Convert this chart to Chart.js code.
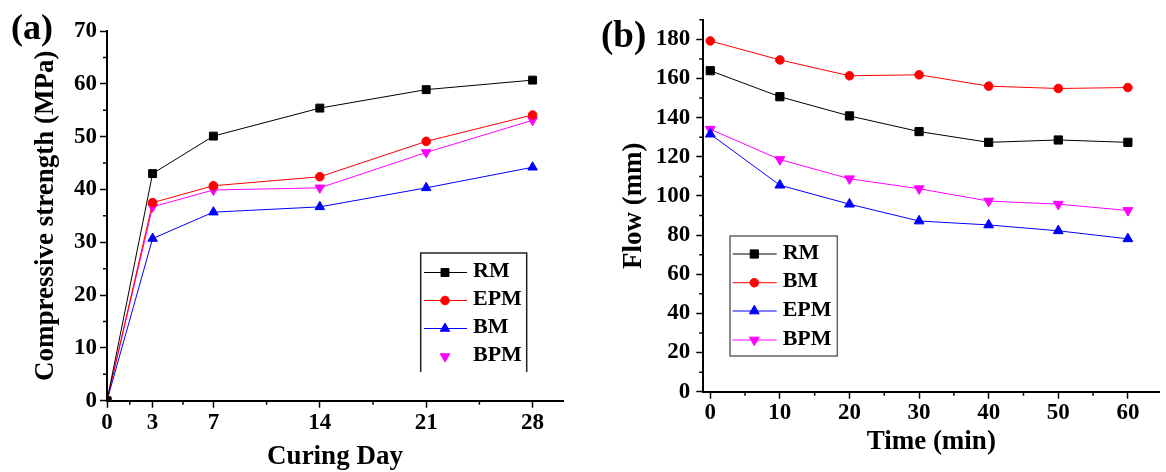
<!DOCTYPE html>
<html>
<head>
<meta charset="utf-8">
<script src="https://cdn.jsdelivr.net/npm/chart.js@4.4.0/dist/chart.umd.min.js"></script>
<style>
  html, body { margin: 0; padding: 0; background: #fff; }
  body { width: 1166px; height: 472px; position: relative; overflow: hidden; }
  .panel { position: absolute; top: 0; }
</style>
</head>
<body>
<div class="panel" style="left:0"><canvas id="chartA" width="580" height="472"></canvas></div>
<div class="panel" style="left:590px"><canvas id="chartB" width="576" height="472"></canvas></div>
<script>
// ---- (a) compressive strength vs curing day ----
const curingDays = [0, 3, 7, 14, 21, 28];
const dayTicks = [0, 3, 7, 14, 21, 28];
const strengthTicks = [0, 10, 20, 30, 40, 50, 60, 70];
const strengthRM = [0, 43.0, 50.1, 55.4, 58.9, 60.7];
const strengthEPM = [0, 37.5, 40.7, 42.4, 49.1, 54.1];
const strengthBM = [0, 30.7, 35.7, 36.7, 40.3, 44.2];
const strengthBPM = [0, 36.7, 39.9, 40.3, 47.0, 53.1];

// ---- (b) flow vs time ----
const flowTimes = [0, 10, 20, 30, 40, 50, 60];
const timeTicks = [0, 10, 20, 30, 40, 50, 60];
const flowTicks = [0, 20, 40, 60, 80, 100, 120, 140, 160, 180];
const flowRM = [164.0, 150.7, 140.9, 132.9, 127.4, 128.6, 127.4];
const flowBM = [179.2, 169.5, 161.4, 161.9, 156.1, 154.9, 155.4];
const flowEPM = [131.6, 105.5, 95.8, 87.2, 85.2, 82.2, 78.1];
const flowBPM = [134.1, 118.6, 108.8, 103.7, 97.4, 95.8, 92.6];

const SERIF = "'Liberation Serif', 'Times New Roman', serif";
const tickFont = { family: SERIF, size: 23, weight: "bold" };
const titleFont = { family: SERIF, size: 27, weight: "bold", lineHeight: 1 };

function series(label, xs, ys, color, style, radius, rotation) {
  return {
    label: label,
    data: xs.map((x, i) => ({ x: x, y: ys[i] })),
    borderColor: color,
    backgroundColor: color,
    borderWidth: 1,
    pointStyle: style,
    pointRadius: radius,
    pointRotation: rotation || 0,
    pointBorderWidth: 1,
    tension: 0,
  };
}

// short minor ticks halfway between the major ones
const minorTicks = {
  id: "minorTicks",
  afterDraw(chart) {
    const ctx = chart.ctx;
    const area = chart.chartArea;
    ctx.save();
    ctx.strokeStyle = "#000";
    ctx.lineWidth = 1.5;
    ctx.beginPath();
    for (const id of ["x", "y"]) {
      const s = chart.scales[id];
      const vals = s.ticks.map(t => t.value);
      const mids = [];
      for (let i = 0; i < vals.length - 1; i++) mids.push((vals[i] + vals[i + 1]) / 2);
      const extra = vals[vals.length - 1] + (vals[vals.length - 1] - vals[vals.length - 2]) / 2;
      if (extra <= s.max) mids.push(extra);
      for (const v of mids) {
        const p = s.getPixelForValue(v);
        if (id === "x") { ctx.moveTo(p, area.bottom); ctx.lineTo(p, area.bottom + 4); }
        else { ctx.moveTo(area.left, p); ctx.lineTo(area.left - 4, p); }
      }
    }
    ctx.stroke();
    ctx.restore();
  },
};

// legend box drawn inside the plot
const boxLegend = {
  id: "boxLegend",
  afterDraw(chart, args, o) {
    if (!o || !o.rows) return;
    const ctx = chart.ctx;
    ctx.save();
    const [l, t, r, b] = o.box;
    ctx.strokeStyle = o.boxColor;
    ctx.lineWidth = 1.5;
    ctx.beginPath();
    if (o.openBottom) {
      ctx.moveTo(l, b); ctx.lineTo(l, t); ctx.lineTo(r, t); ctx.lineTo(r, b);
    } else {
      ctx.rect(l, t, r - l, b - t);
    }
    ctx.stroke();
    ctx.font = "bold 22px " + SERIF;
    ctx.textBaseline = "middle";
    ctx.textAlign = "left";
    chart.data.datasets.forEach((ds, i) => {
      const y = o.rows[i];
      if (o.lines[i]) {
        ctx.strokeStyle = ds.borderColor;
        ctx.lineWidth = 1;
        ctx.beginPath();
        ctx.moveTo(o.lineX[0], y);
        ctx.lineTo(o.lineX[1], y);
        ctx.stroke();
      }
      ctx.fillStyle = ds.backgroundColor;
      ctx.strokeStyle = ds.borderColor;
      Chart.helpers.drawPoint(ctx, {
        pointStyle: ds.pointStyle, rotation: ds.pointRotation,
        radius: ds.pointRadius, borderWidth: 1,
      }, o.markerX, y);
      ctx.fillStyle = "#000";
      ctx.fillText(ds.label, o.textX, y - 1);
    });
    ctx.restore();
  },
};

// "(a)" / "(b)" panel letters
const panelLabel = {
  id: "panelLabel",
  afterDraw(chart, args, o) {
    if (!o || !o.text) return;
    const ctx = chart.ctx;
    ctx.save();
    ctx.font = "bold " + o.size + "px " + SERIF;
    ctx.fillStyle = "#000";
    ctx.textAlign = "left";
    ctx.textBaseline = "alphabetic";
    ctx.fillText(o.text, o.x, o.y);
    ctx.restore();
  },
};

function axis(min, max, ticks, opts) {
  return {
    type: "linear",
    min: min,
    max: max,
    afterBuildTicks: s => { s.ticks = ticks.map(v => ({ value: v })); },
    afterFit: opts.fit,
    border: { color: "#000", width: 2 },
    grid: { drawOnChartArea: false, tickLength: 7, tickColor: "#000", tickWidth: 1.5 },
    ticks: { color: "#000", font: tickFont, padding: opts.pad, maxRotation: 0, autoSkip: false },
    title: { display: true, text: opts.title, color: "#000", font: titleFont, padding: opts.titlePad },
  };
}

Chart.defaults.animation = false;
Chart.defaults.responsive = false;
Chart.defaults.devicePixelRatio = 1;

new Chart(document.getElementById("chartA").getContext("2d"), {
  type: "line",
  data: {
    datasets: [
      series("RM", curingDays, strengthRM, "#000000", "rect", 5.6),
      series("EPM", curingDays, strengthEPM, "#ff0000", "circle", 4.3),
      series("BM", curingDays, strengthBM, "#0000ff", "triangle", 5.5),
      series("BPM", curingDays, strengthBPM, "#ff00ff", "triangle", 5.5, 180),
    ],
  },
  options: {
    layout: { padding: { left: 0, right: 17, top: 31, bottom: 0 } },
    plugins: {
      legend: { display: false },
      tooltip: { enabled: false },
      boxLegend: {
        box: [420.7, 253, 526.7, 372], boxColor: "#222", openBottom: true,
        rows: [272.5, 300.5, 328.5, 356.5], lines: [true, true, true, false],
        lineX: [424, 467], markerX: 445, textX: 473,
      },
      panelLabel: { text: "(a)", x: 11, y: 39, size: 36 },
    },
    scales: {
      x: axis(0, 30, dayTicks, {
        fit: s => { s.height = 71.3; }, pad: 2, title: "Curing Day",
        titlePad: { top: 0, bottom: 1.5 },
      }),
      y: axis(0, 70, strengthTicks, {
        fit: s => { s.width = 107; }, pad: 3, title: "Compressive strength (MPa)",
        titlePad: { top: 32.5, bottom: 0 },
      }),
    },
  },
  plugins: [minorTicks, boxLegend, panelLabel],
});

new Chart(document.getElementById("chartB").getContext("2d"), {
  type: "line",
  data: {
    datasets: [
      series("RM", flowTimes, flowRM, "#000000", "rect", 5.8),
      series("BM", flowTimes, flowBM, "#ff0000", "circle", 4.3),
      series("EPM", flowTimes, flowEPM, "#0000ff", "triangle", 5.7),
      series("BPM", flowTimes, flowBPM, "#ff00ff", "triangle", 5.7, 180),
    ],
  },
  options: {
    layout: { padding: { left: 0, right: 1, top: 16, bottom: 0 } },
    plugins: {
      legend: { display: false },
      tooltip: { enabled: false },
      boxLegend: {
        box: [140, 236, 247.3, 356], boxColor: "#666", openBottom: false,
        rows: [254, 282.7, 311, 340], lines: [true, true, true, true],
        lineX: [142.7, 186.7], markerX: 164.3, textX: 192.7,
      },
      panelLabel: { text: "(b)", x: 11, y: 47, size: 37 },
    },
    scales: {
      x: axis(-1, 64.5, timeTicks, {
        fit: s => { s.height = 80.3; }, pad: 1, title: "Time (min)",
        titlePad: { top: 0, bottom: 16.7 },
      }),
      y: axis(0, 190, flowTicks, {
        fit: s => { s.width = 113.3; }, pad: 6, title: "Flow (mm)",
        titlePad: { top: 30.5, bottom: 0 },
      }),
    },
  },
  plugins: [minorTicks, boxLegend, panelLabel],
});
</script>
</body>
</html>
